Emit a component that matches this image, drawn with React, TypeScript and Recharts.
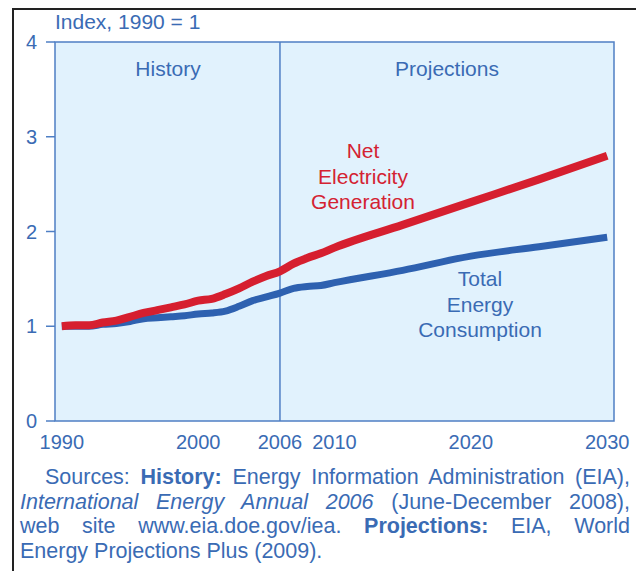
import {
  Line,
  LineChart,
  ReferenceArea,
  ReferenceLine,
  XAxis,
  YAxis,
} from "recharts";

// Index, 1990 = 1. History through 2006, projections after.
const YEARS = [
  1990, 1991, 1992, 1993, 1994, 1995, 1996, 1997, 1998, 1999, 2000, 2001,
  2002, 2003, 2004, 2005, 2006, 2007, 2008, 2009, 2010, 2015, 2020, 2025, 2030,
];
const NET_ELECTRICITY = [
  1.0, 1.01, 1.01, 1.04, 1.06, 1.1, 1.14, 1.17, 1.2, 1.23, 1.27, 1.29, 1.34,
  1.4, 1.47, 1.53, 1.58, 1.66, 1.72, 1.77, 1.83, 2.07, 2.31, 2.55, 2.8,
];
const TOTAL_ENERGY = [
  1.0, 1.0, 1.0, 1.02, 1.03, 1.05, 1.08, 1.09, 1.1, 1.11, 1.13, 1.14, 1.16,
  1.21, 1.27, 1.31, 1.35, 1.4, 1.42, 1.43, 1.46, 1.59, 1.74, 1.84, 1.94,
];
const X_TICKS = [1990, 2000, 2006, 2010, 2020, 2030];
const Y_TICKS = [0, 1, 2, 3, 4];

const BLUE_TEXT = "#3a6bb4";
const RED_TEXT = "#d42232";
const LINE_RED = "#d61f2f";
const LINE_BLUE = "#2e61b0";
const PLOT_FILL = "#e1f2fd";
const PLOT_EDGE = "#4f7fc4";
const FONT = "'Liberation Sans', Arial, sans-serif";

const data = YEARS.map((year, i) => ({
  year,
  electricity: NET_ELECTRICITY[i],
  energy: TOTAL_ENERGY[i],
}));

function Note({
  x,
  y,
  color,
  lines,
}: {
  x: number;
  y: number;
  color: string;
  lines: string[];
}) {
  return (
    <div
      style={{
        position: "absolute",
        left: x - 100,
        top: y,
        width: 200,
        textAlign: "center",
        color,
        fontSize: 21,
        lineHeight: "25.5px",
      }}
    >
      {lines.map((l) => (
        <div key={l}>{l}</div>
      ))}
    </div>
  );
}

export default function App() {
  const justified = {
    textAlignLast: "justify" as const,
    whiteSpace: "nowrap" as const,
  };
  return (
    <div
      style={{
        position: "absolute",
        left: 0,
        top: 0,
        width: 636,
        height: 571,
        background: "#fff",
        fontFamily: FONT,
        overflow: "hidden",
      }}
    >
      {/* frame */}
      <div
        style={{
          position: "absolute",
          left: 12,
          top: 8,
          width: 640,
          height: 580,
          borderTop: "2px solid #222",
          borderLeft: "2px solid #222",
        }}
      />

      <div style={{ position: "absolute", left: 0, top: 0 }}>
        <LineChart
          width={636}
          height={470}
          data={data}
          margin={{ top: 42, right: 22, left: 0, bottom: 9 }}
        >
          <ReferenceArea
            x1={1989.5}
            x2={2030.5}
            y1={0}
            y2={4}
            fill={PLOT_FILL}
            fillOpacity={1}
            stroke={PLOT_EDGE}
            strokeWidth={1.5}
          />
          <ReferenceLine x={2006} stroke={PLOT_EDGE} strokeWidth={1.5} />
          <XAxis
            dataKey="year"
            type="number"
            domain={[1989.5, 2030.5]}
            ticks={X_TICKS}
            interval={0}
            tickLine={false}
            axisLine={false}
            tickSize={0}
            tickMargin={14}
            height={40}
            tick={{ fill: BLUE_TEXT, fontSize: 20, fontFamily: FONT }}
          />
          <YAxis
            type="number"
            domain={[0, 4]}
            ticks={Y_TICKS}
            width={55}
            axisLine={false}
            tickSize={9}
            tickMargin={9}
            tickLine={{ stroke: PLOT_EDGE, strokeWidth: 1.5 }}
            tick={{ fill: BLUE_TEXT, fontSize: 20, fontFamily: FONT }}
          />
          <Line
            dataKey="energy"
            type="monotone"
            stroke={LINE_BLUE}
            strokeWidth={7}
            dot={false}
            isAnimationActive={false}
          />
          <Line
            dataKey="electricity"
            type="monotone"
            stroke={LINE_RED}
            strokeWidth={8}
            dot={false}
            isAnimationActive={false}
          />
        </LineChart>
      </div>

      <div
        style={{
          position: "absolute",
          left: 55,
          top: 10,
          color: BLUE_TEXT,
          fontSize: 21,
        }}
      >
        Index, 1990 = 1
      </div>

      <Note x={168} y={56} color={BLUE_TEXT} lines={["History"]} />
      <Note x={447} y={56} color={BLUE_TEXT} lines={["Projections"]} />
      <Note
        x={363}
        y={138}
        color={RED_TEXT}
        lines={["Net", "Electricity", "Generation"]}
      />
      <Note
        x={480}
        y={266}
        color={BLUE_TEXT}
        lines={["Total", "Energy", "Consumption"]}
      />

      <div
        style={{
          position: "absolute",
          left: 20,
          top: 465,
          width: 610,
          color: BLUE_TEXT,
          fontSize: 21.5,
          lineHeight: "24.6px",
        }}
      >
        <div style={{ ...justified, paddingLeft: 25 }}>
          Sources: <b>History:</b> Energy Information Administration (EIA),
        </div>
        <div style={justified}>
          <i>International Energy Annual 2006</i> (June-December 2008),
        </div>
        <div style={justified}>
          web site www.eia.doe.gov/iea. <b>Projections:</b> EIA, World
        </div>
        <div>Energy Projections Plus (2009).</div>
      </div>
    </div>
  );
}
